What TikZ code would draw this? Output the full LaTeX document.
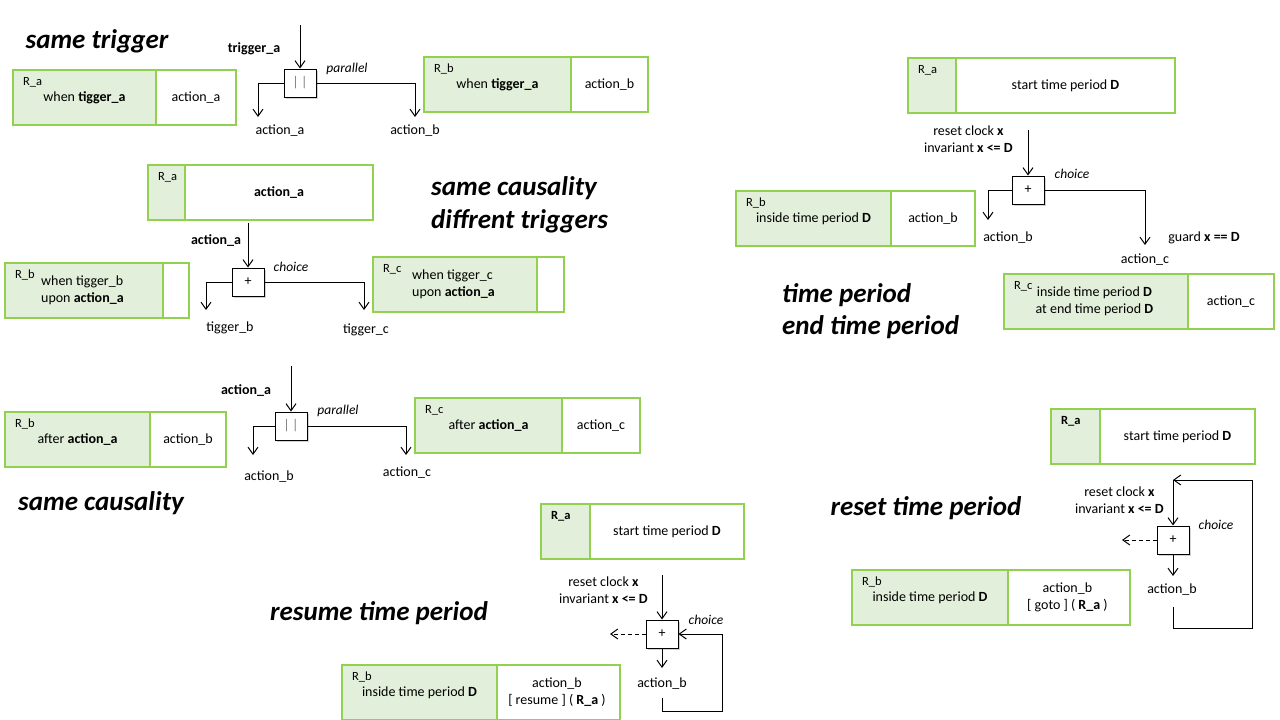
\documentclass[tikz,border=0pt]{standalone}
\usepackage{fontspec}
\setmainfont{Carlito}
\usepackage{tikz}
\usetikzlibrary{positioning, arrows.meta, shadows}

\definecolor{boxline}{RGB}{146,208,80}
\definecolor{boxfill}{RGB}{226,239,218}

\newcommand{\boxfont}{\fontsize{14}{17}\selectfont}
\newcommand{\rfont}{\fontsize{12.5}{14}\selectfont}
\newcommand{\opfont}{\fontsize{13.5}{16}\selectfont\itshape}
\newcommand{\headfont}{\fontsize{27}{32.5}\selectfont\bfseries\itshape}

\tikzset{
  gpart/.style={draw=boxline, fill=boxfill, line width=1.3pt, minimum height=55pt,
    inner sep=0pt, outer sep=0pt, font=\boxfont, align=center},
  wpart/.style={gpart, fill=white},
  rlab/.style={anchor=west, xshift=10pt, yshift=-12pt, inner sep=0pt, font=\rfont},
  opbox/.style={draw, fill=white, line width=1pt, minimum width=32pt, minimum height=28pt,
    inner sep=0pt, font=\boxfont,
    drop shadow={shadow xshift=1.5pt, shadow yshift=-1.5pt, opacity=.35}},
  lbl/.style={font=\boxfont, align=center, inner sep=1pt},
  optxt/.style={font=\opfont, inner sep=1pt},
  titletxt/.style={font=\headfont, align=left, inner sep=0pt},
  flow/.style={-{Straight Barb[length=7pt,width=10pt]}, line width=1pt},
  dflow/.style={flow, dash pattern=on 4pt off 3pt},
}

\begin{document}
\begin{tikzpicture}[x=1pt, y=-1pt]

    \useasboundingbox (0,0) rectangle (1280,720);

    % ---------- same trigger

    \node[titletxt] (headTrig) at (97,41) {same trigger};

    \node[gpart, anchor=north west, minimum width=143pt,
      label={[rlab]north west:R\_a}] (trgA) at (13,70) {when \textbf{tigger\_a}};
    \node[wpart, minimum width=80pt, right=0pt of trgA] (trgAact) {action\_a};

    \coordinate (trgIn) at (300,25);
    \node[lbl, font=\boxfont\bfseries] (trgInL) at (254,49) {trigger\_a};
    \node[opbox] (trgOp) at (300,83) {\textcolor{gray}{|\,|}};
    \node[optxt] (trgOpL) at (347,69) {parallel};
    \coordinate (trgL) at (258,117);
    \coordinate (trgR) at (415,117);
    \node[lbl] (trgLL) at (280,131) {action\_a};
    \node[lbl] (trgRL) at (415,131) {action\_b};
    \draw[flow] (trgIn) -- (trgOp);
    \draw[flow] (trgOp.west) -| (trgL);
    \draw[flow] (trgOp.east) -| (trgR);

    \node[gpart, anchor=north west, minimum width=147pt,
      label={[rlab]north west:R\_b}] (trgB) at (424,57) {when \textbf{tigger\_a}};
    \node[wpart, minimum width=77pt, right=0pt of trgB] (trgBact) {action\_b};

    % ---------- same causality, diffrent triggers

    \node[titletxt, anchor=west] (headCau) at (431,205) {same causality\\diffrent triggers};

    \node[gpart, anchor=north west, minimum width=37pt,
      label={[rlab]north west:R\_a}] (cauA) at (148,165) {};
    \node[wpart, minimum width=188pt, right=0pt of cauA] (cauAact) {\textbf{action\_a}};

    \node[lbl, font=\boxfont\bfseries] (cauInL) at (216,241) {action\_a};
    \node[opbox] (cauOp) at (248,282) {+};
    \node[optxt] (cauOpL) at (291,267) {choice};
    \coordinate (cauL) at (206,310);
    \coordinate (cauR) at (364,310);
    \node[lbl] (cauLL) at (230,328) {tigger\_b};
    \node[lbl] (cauRL) at (366,330) {tigger\_c};
    \draw[flow, shorten <=3pt] (cauOp |- cauAact.south) -- (cauOp);
    \draw[flow] (cauOp.west) -| (cauL);
    \draw[flow] (cauOp.east) -| (cauR);

    \node[gpart, anchor=north west, minimum width=158pt,
      label={[rlab]north west:R\_b}] (cauB) at (5,263) {
    \begin{tabular}{@{}l@{}}
    when tigger\_b\\
    upon \textbf{action\_a}
    \end{tabular}
    };
    \node[wpart, minimum width=26pt, right=0pt of cauB] (cauBact) {};

    \node[gpart, anchor=north west, minimum width=164pt,
      label={[rlab]north west:R\_c}] (cauC) at (373,257) {
    \begin{tabular}{@{}l@{}}
    when tigger\_c\\
    upon \textbf{action\_a}
    \end{tabular}
    };
    \node[wpart, minimum width=27pt, right=0pt of cauC] (cauCact) {};

    % ---------- same causality

    \node[titletxt] (headAft) at (101,503) {same causality};

    \coordinate (aftIn) at (291,366);
    \node[lbl, font=\boxfont\bfseries] (aftInL) at (246,391) {action\_a};
    \node[opbox] (aftOp) at (291,426) {\textcolor{gray}{|\,|}};
    \node[optxt] (aftOpL) at (338,411) {parallel};
    \coordinate (aftL) at (253,455);
    \coordinate (aftR) at (406,455);
    \node[lbl] (aftLL) at (269,477) {action\_b};
    \node[lbl] (aftRL) at (407,473) {action\_c};
    \draw[flow] (aftIn) -- (aftOp);
    \draw[flow] (aftOp.west) -| (aftL);
    \draw[flow] (aftOp.east) -| (aftR);

    \node[gpart, anchor=north west, minimum width=145pt,
      label={[rlab]north west:R\_b}] (aftB) at (5,412) {after \textbf{action\_a}};
    \node[wpart, minimum width=76pt, right=0pt of aftB] (aftBact) {action\_b};

    \node[gpart, anchor=north west, minimum width=147pt,
      label={[rlab]north west:R\_c}] (aftC) at (415,398) {after \textbf{action\_a}};
    \node[wpart, minimum width=78pt, right=0pt of aftC] (aftCact) {action\_c};

    % ---------- resume time period

    \node[titletxt] (headRes) at (379,613) {resume time period};

    \node[gpart, anchor=north west, minimum width=49pt,
      label={[rlab, font=\rfont\bfseries]north west:R\_a}] (resA) at (541,504) {};
    \node[wpart, minimum width=154pt, right=0pt of resA] (resAact) {start time period \textbf{D}};

    \coordinate (resIn) at (662,575);
    \node[lbl] (resInL) at (605,592) {
    \begin{tabular}{c}
    reset clock \textbf{x}\\
    invariant \textbf{x <= D}
    \end{tabular}
    };
    \node[opbox] (resOp) at (662,634) {+};
    \node[optxt] (resOpL) at (706,620) {choice};
    \coordinate (resOut) at (610,634);
    \coordinate (resDn) at (662,668);
    \node[lbl] (resDnL) at (662,684) {action\_b};
    \coordinate (resLp) at (662,698);
    \coordinate (resLq) at (722,711);
    \draw[flow] (resIn) -- (resOp);
    \draw[dflow] (resOp.west) -- (resOut);
    \draw[flow] (resOp.south) -- (resDn);
    \draw[flow] (resLp) |- (resLq) |- (resOp.east);

    \node[gpart, anchor=north west, minimum width=155pt,
      label={[rlab]north west:R\_b}] (resB) at (342,665) {inside time period \textbf{D}};
    \node[wpart, minimum width=123pt, right=0pt of resB] (resBact) {
    \begin{tabular}{c}
    action\_b\\
    {[} resume {]} ( \textbf{R\_a} )
    \end{tabular}
    };

    % ---------- time period, end time period

    \node[titletxt, anchor=west] (headEnd) at (782,311) {time period\\end time period};

    \node[gpart, anchor=north west, minimum width=48pt,
      label={[rlab]north west:R\_a}] (endA) at (908,58) {};
    \node[wpart, minimum width=219pt, right=0pt of endA] (endAact) {start time period \textbf{D}};

    \coordinate (endIn) at (1028,130);
    \node[lbl] (endInL) at (970,141) {
    \begin{tabular}{c}
    reset clock \textbf{x}\\
    invariant \textbf{x <= D}
    \end{tabular}
    };
    \node[opbox] (endOp) at (1028,190) {+};
    \node[optxt] (endOpL) at (1072,174) {choice};
    \coordinate (endL) at (988,220);
    \coordinate (endR) at (1145,245);
    \node[lbl] (endLL) at (1008,238) {action\_b};
    \node[lbl] (endRL) at (1145,260) {action\_c};
    \node[lbl] (endGrd) at (1204,238) {guard \textbf{x == D}};
    \draw[flow] (endIn) -- (endOp);
    \draw[flow] (endOp.west) -| (endL);
    \draw[flow] (endOp.east) -| (endR);

    \node[gpart, anchor=north west, minimum width=155pt,
      label={[rlab]north west:R\_b}] (endB) at (736,191) {inside time period \textbf{D}};
    \node[wpart, minimum width=84pt, right=0pt of endB] (endBact) {action\_b};

    \node[gpart, anchor=north west, minimum width=184pt,
      label={[rlab]north west:R\_c}] (endC) at (1004,274) {
    \begin{tabular}{c}
    inside time period \textbf{D}\\
    at end time period \textbf{D}
    \end{tabular}
    };
    \node[wpart, minimum width=86pt, right=0pt of endC] (endCact) {action\_c};

    % ---------- reset time period

    \node[titletxt] (headRst) at (926,508) {reset time period};

    \node[gpart, anchor=north west, minimum width=49pt,
      label={[rlab, font=\rfont\bfseries]north west:R\_a}] (rstA) at (1051,409) {};
    \node[wpart, minimum width=155pt, right=0pt of rstA] (rstAact) {start time period \textbf{D}};

    \coordinate (rstTop) at (1173,480);
    \node[lbl] (rstInL) at (1121,502) {
    \begin{tabular}{c}
    reset clock \textbf{x}\\
    invariant \textbf{x <= D}
    \end{tabular}
    };
    \node[opbox] (rstOp) at (1173,540) {+};
    \node[optxt] (rstOpL) at (1216,525) {choice};
    \coordinate (rstOut) at (1122,540);
    \coordinate (rstDn) at (1173,576);
    \node[lbl] (rstDnL) at (1172,590) {action\_b};
    \coordinate (rstLp) at (1173,607);
    \coordinate (rstLq) at (1252,628);
    \draw[flow] (rstTop) -- (rstOp);
    \draw[dflow] (rstOp.west) -- (rstOut);
    \draw[flow] (rstOp.south) -- (rstDn);
    \draw[flow] (rstLp) |- (rstLq) |- (rstTop);

    \node[gpart, anchor=north west, minimum width=156pt,
      label={[rlab]north west:R\_b}] (rstB) at (852,570) {inside time period \textbf{D}};
    \node[wpart, minimum width=122pt, right=0pt of rstB] (rstBact) {
    \begin{tabular}{c}
    action\_b\\
    {[} goto {]} ( \textbf{R\_a} )
    \end{tabular}
    };

\end{tikzpicture}
\end{document}
